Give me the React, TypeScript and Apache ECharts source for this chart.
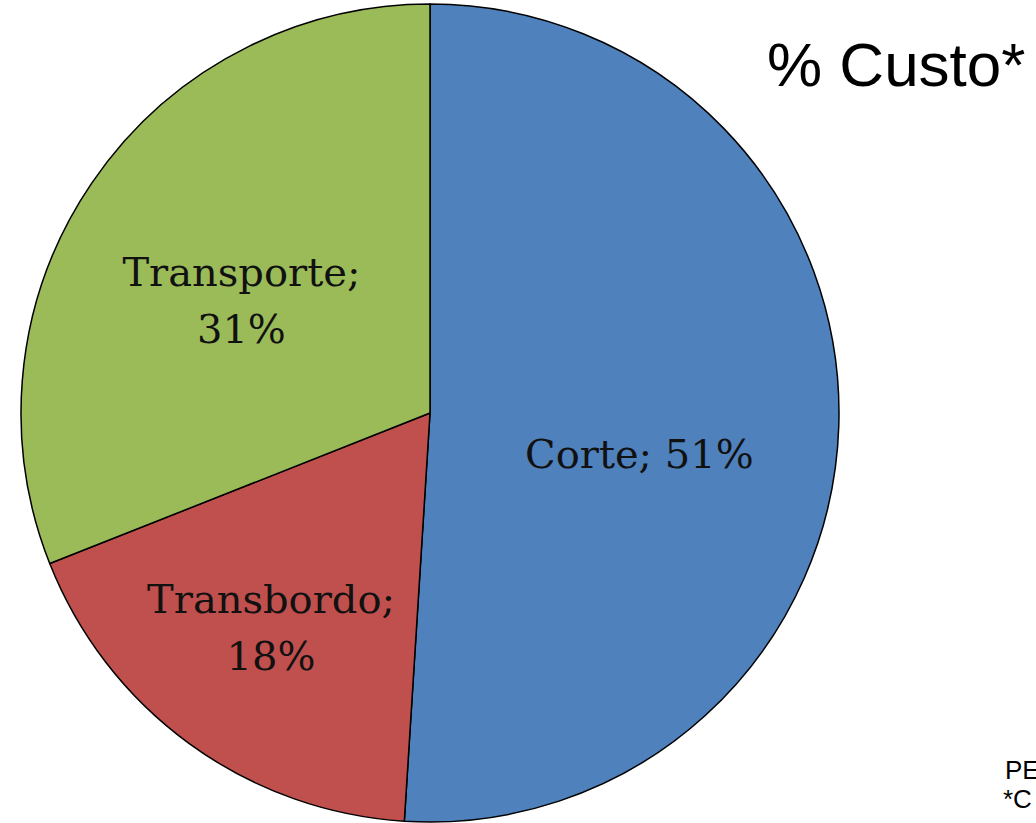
import React, { useEffect, useRef } from "react";
import * as echarts from "echarts";

const categories = ["Corte", "Transbordo", "Transporte"];
const values = [51, 18, 31];
const colors = ["#4F81BD", "#C0504D", "#9BBB59"];
const labelOffsets = [
  [2, 34],
  [-37, 47],
  [-17, 4],
];
const titleText = "% Custo*";
const footLines = ["PE", "*C"];

export default function App() {
  const ref = useRef<HTMLDivElement>(null);
  useEffect(() => {
    if (!ref.current) return;
    const chart = echarts.init(ref.current, null, { renderer: "svg" });
    chart.setOption({
      animation: false,
      backgroundColor: "#ffffff",
      graphic: [
        {
          type: "text",
          x: 767,
          y: 64,
          style: {
            text: titleText,
            font: "62px 'Liberation Sans', Arial, sans-serif",
            fill: "#000",
            verticalAlign: "middle",
            align: "left",
          },
        },
        {
          type: "text",
          x: 1005,
          y: 770,
          style: {
            text: footLines[0],
            font: "26px 'Liberation Sans', Arial, sans-serif",
            fill: "#000",
            verticalAlign: "middle",
            align: "left",
          },
        },
        {
          type: "text",
          x: 1003,
          y: 799,
          style: {
            text: footLines[1],
            font: "26px 'Liberation Sans', Arial, sans-serif",
            fill: "#000",
            verticalAlign: "middle",
            align: "left",
          },
        },
      ],
      series: [
        {
          type: "pie",
          center: [430, 413],
          radius: 409,
          startAngle: 90,
          clockwise: true,
          avoidLabelOverlap: false,
          emphasis: { disabled: true },
          itemStyle: { borderColor: "#000", borderWidth: 1.5 },
          labelLine: { show: false },
          label: {
            show: true,
            position: "inside",
            fontFamily: "'DejaVu Serif', 'Liberation Serif', serif",
            fontSize: 40,
            lineHeight: 57,
            color: "#111",
            align: "center",
            formatter: (p: any) =>
              p.name === "Corte" ? `${p.name}; ${p.value}%` : `${p.name};\n${p.value}%`,
          },
          data: categories.map((name, i) => ({
            name,
            value: values[i],
            itemStyle: { color: colors[i] },
            label: { offset: labelOffsets[i] },
          })),
        },
      ],
    });
    return () => chart.dispose();
  }, []);
  return (
    <div
      ref={ref}
      style={{ position: "fixed", left: 0, top: 0, width: 1036, height: 823 }}
    />
  );
}
